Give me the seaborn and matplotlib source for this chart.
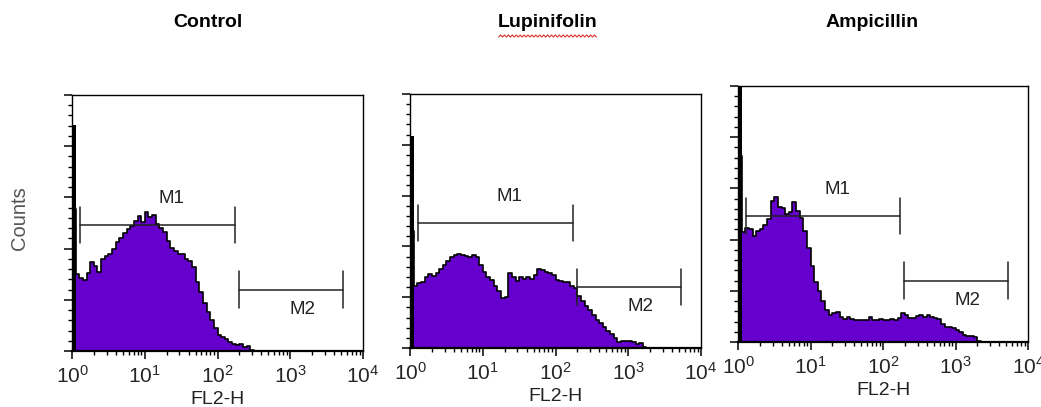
import numpy as np
import pandas as pd
import matplotlib
matplotlib.use("Agg")
import matplotlib.pyplot as plt
import seaborn as sns
from matplotlib.ticker import FixedLocator, FuncFormatter, MultipleLocator

# ---- data: FL2-H histograms, channel width 0.05 decade starting at 10^0 ----
PANELS = ["Control", "Lupinifolin", "Ampicillin"]

control_counts = [139, 75, 71, 69, 76, 87, 83, 77, 90, 93, 95, 100, 106, 110, 115,
                  119, 122, 127, 132, 126, 136, 131, 133, 124, 120, 116, 107, 101,
                  98, 95, 95, 90, 88, 82, 67, 58, 47, 38, 30, 22, 16, 14, 12, 9, 7,
                  6, 7, 4, 5, 1]
lupinifolin_counts = [115, 61, 64, 65, 70, 73, 71, 74, 78, 82, 86, 90, 92, 93, 92,
                      91, 90, 92, 90, 82, 75, 70, 67, 61, 56, 49, 50, 74, 70, 66,
                      70, 68, 70, 68, 72, 78, 77, 75, 74, 72, 67, 66, 65, 65, 61,
                      59, 51, 46, 41, 37, 32, 28, 25, 21, 17, 14, 10, 6, 7, 7, 7,
                      6, 4, 5, 1]
ampicillin_counts = [182, 107, 111, 110, 104, 108, 110, 114, 120, 138, 142, 132,
                     131, 125, 127, 137, 128, 121, 108, 92, 74, 59, 50, 40, 31, 26,
                     28, 29, 24, 22, 24, 22, 21, 21, 21, 21, 24, 21, 21, 22, 21, 21,
                     22, 21, 23, 28, 26, 23, 23, 25, 26, 24, 26, 24, 23, 22, 18, 15,
                     15, 14, 12, 10, 7, 6, 6, 5, 1]
COUNTS = [control_counts, lupinifolin_counts, ampicillin_counts]

# first-channel spike (counts)
SPIKE = [221, 209, 250]

# marker gates: (label, start, end, level)
MARKERS = [("M1", 1.29, 172, 123), ("M2", 197, 5300, 60)]

XTICK_POWERS = [0, 1, 2, 3, 4]

BIN_W = 0.05
PURPLE = "#6600cc"

sns.set_style("ticks")
plt.rcParams["font.family"] = ["Liberation Sans Narrow", "Liberation Sans", "DejaVu Sans"]
plt.rcParams["mathtext.fontset"] = "custom"
plt.rcParams["mathtext.rm"] = "Liberation Sans"

fig = plt.figure(figsize=(10.41, 4.07), dpi=100)
positions = [
    [0.0692, 0.1376, 0.2795, 0.629],
    [0.3939, 0.1450, 0.2795, 0.624],
    [0.7090, 0.1597, 0.2786, 0.629],
]
title_x = [0.200, 0.526, 0.838]

edges = np.arange(0, 4 + BIN_W / 2, BIN_W)
minor_x = [np.log10(k * 10 ** d) for d in range(4) for k in range(2, 10)]

for i, name in enumerate(PANELS):
    ax = fig.add_axes(positions[i])
    counts = np.zeros(len(edges) - 1)
    counts[:len(COUNTS[i])] = COUNTS[i]
    df = pd.DataFrame({"log_fl2": edges[:-1] + BIN_W / 2, "count": counts})

    sns.histplot(data=df, x="log_fl2", weights="count", bins=list(edges),
                 element="step", fill=True, facecolor=PURPLE, edgecolor="black",
                 linewidth=1.2, alpha=1, ax=ax)
    # narrow first-channel spike
    ax.bar(0.008, SPIKE[i], width=0.04, align="edge", color="black",
           linewidth=0, zorder=3)

    for lab, a, b, lev in MARKERS:
        la, lb = np.log10(a), np.log10(b)
        ax.plot([la, lb], [lev, lev], color="#222222", lw=1.1)
        for e in (la, lb):
            ax.plot([e, e], [lev - 18, lev + 18], color="#222222", lw=1.1)
        ax.text((la + lb) / 2 + (0.2 if lab == "M1" else 0.16),
                lev + (26 if lab == "M1" else -19), lab,
                ha="center", va="center", fontsize=13.5, color="#222222")

    ax.set_xlim(0, 4)
    ax.set_ylim(0, 250)
    ax.xaxis.set_major_locator(FixedLocator(XTICK_POWERS))
    ax.xaxis.set_minor_locator(FixedLocator(minor_x))
    ax.xaxis.set_major_formatter(FuncFormatter(lambda v, p: r"$\mathregular{10^{%d}}$" % round(v)))
    ax.yaxis.set_major_locator(MultipleLocator(50))
    ax.yaxis.set_minor_locator(MultipleLocator(10))
    ax.set_yticklabels([])
    ax.tick_params(axis="both", which="major", direction="out", length=6, width=1.1,
                   color="black", labelsize=15, pad=4)
    ax.tick_params(axis="both", which="minor", direction="out", length=3, width=1,
                   color="black")
    for s in ax.spines.values():
        s.set_visible(True)
        s.set_color("black")
        s.set_linewidth(1.0)
    ax.spines["bottom"].set_linewidth(1.6)
    ax.set_ylabel("")
    ax.set_xlabel("FL2-H", fontsize=14, labelpad=3, color="#222222")
    ax.grid(False)

    fig.text(title_x[i], 0.945, name, ha="center", va="center",
             fontsize=14, fontweight="bold", color="black")

fig.text(0.019, 0.464, "Counts", rotation=90, ha="center", va="center",
         fontsize=14.5, color="#555555", family=["Liberation Sans", "DejaVu Sans"])

# spell-check squiggle under "Lupinifolin"
sq_x = np.linspace(0.479, 0.573, 51)
sq_y = 0.909 + 0.005 * (np.arange(51) % 2)
fig.add_artist(plt.Line2D(sq_x, sq_y, color="#e03030", lw=0.8, transform=fig.transFigure))

fig.savefig("out.png", dpi=100)
